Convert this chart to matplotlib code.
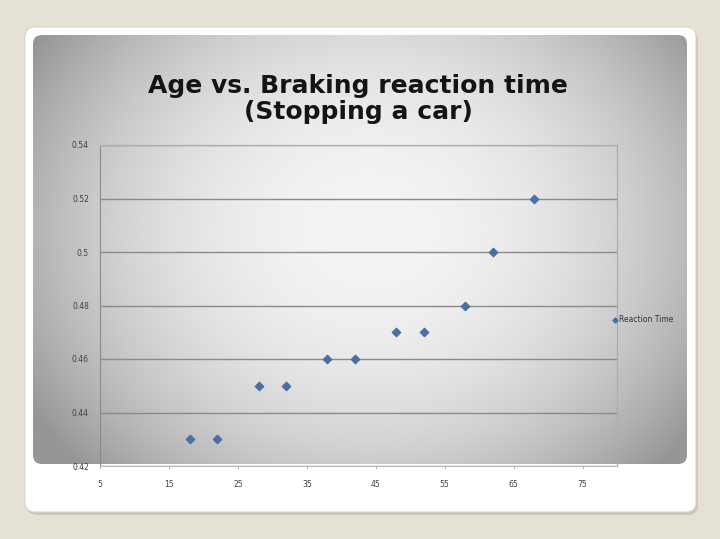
import numpy as np
import matplotlib
matplotlib.use("Agg")
import matplotlib.pyplot as plt
from matplotlib.patches import FancyBboxPatch

# ---- data ----
ages = [18, 22, 28, 32, 38, 42, 48, 52, 58, 62, 68]
reaction_time = [0.43, 0.43, 0.45, 0.45, 0.46, 0.46, 0.47, 0.47, 0.48, 0.50, 0.52]
x_ticks = [5, 15, 25, 35, 45, 55, 65, 75]
y_ticks = [0.42, 0.44, 0.46, 0.48, 0.50, 0.52, 0.54]
y_tick_labels = ["0.42", "0.44", "0.46", "0.48", "0.5", "0.52", "0.54"]
title = "Age vs. Braking reaction time\n(Stopping a car)"
series_name = "Reaction Time"

W, H = 720, 539
fig = plt.figure(figsize=(W / 100, H / 100), dpi=100)
fig.patch.set_facecolor("#e6e1d5")

# background layer in pixel coordinates
bg = fig.add_axes([0, 0, 1, 1])
bg.set_xlim(0, W)
bg.set_ylim(H, 0)
bg.axis("off")

# shadow + white card
shadow = FancyBboxPatch((27, 31), 671, 484, boxstyle="round,pad=0,rounding_size=10",
                        fc="#b9b5aa", ec="none", alpha=0.6, zorder=1)
bg.add_patch(shadow)
card = FancyBboxPatch((25, 27), 671, 485, boxstyle="round,pad=0,rounding_size=10",
                      fc="white", ec="#d8d4c8", lw=0.8, zorder=2)
bg.add_patch(card)

# gray gradient panel
px0, px1, py0, py1 = 33, 687, 35, 464
panel = FancyBboxPatch((px0, py0), px1 - px0, py1 - py0,
                       boxstyle="round,pad=0,rounding_size=9",
                       fc="none", ec="none", zorder=3)
bg.add_patch(panel)
gx = np.linspace(px0, px1, 400)
gy = np.linspace(py0, py1, 300)
GX, GY = np.meshgrid(gx, gy)
r = np.sqrt(((GX - 370) / 380) ** 2 + ((GY - 230) / 330) ** 2)
val = 244 - 85 * np.clip(r, 0, 1.6) ** 2.2
val = np.clip(val, 150, 250) / 255.0
img = np.dstack([val, val, val])
im = bg.imshow(img, extent=[px0, px1, py1, py0], zorder=4, interpolation="bilinear")
im.set_clip_path(panel)

bg.text(358, 99, title, ha="center", va="center", fontsize=18,
        fontweight="bold", color="#141414", linespacing=1.15, zorder=5,
        family="DejaVu Sans")

# ---- main chart ----
ax = fig.add_axes([100 / W, 1 - 466 / H, (617 - 100) / W, (466 - 145) / H])
ax.patch.set_alpha(0)
ax.scatter(ages, reaction_time, marker="D", s=18, color="#4a6fa5",
           edgecolors="#4a6fa5", zorder=3, label=series_name)
ax.set_xlim(5, 80)
ax.set_ylim(0.42, 0.54)
ax.set_xticks(x_ticks)
ax.set_yticks(y_ticks)
ax.set_yticklabels(y_tick_labels)
ax.grid(axis="y", color="#8a8a8a", lw=1.0)
ax.set_axisbelow(True)
for s in ["top", "right"]:
    ax.spines[s].set_color("#9fb0c2")
    ax.spines[s].set_linewidth(0.9)
ax.spines["left"].set_color("#8a8a8a")
ax.spines["bottom"].set_color("#b8b8b8")
ax.tick_params(axis="both", labelsize=5.5, colors="#b0b0b0", labelcolor="#404040",
               length=2, width=0.6)
ax.tick_params(axis="y", length=0, pad=8)
ax.tick_params(axis="x", pad=8)

leg = ax.legend(loc="center left", bbox_to_anchor=(0.985, 0.455), frameon=False,
                fontsize=5.5, handletextpad=0.1, markerscale=0.6,
                borderaxespad=0, handlelength=0.8)
for t in leg.get_texts():
    t.set_color("#333333")

fig.savefig("out.png", dpi=100)
